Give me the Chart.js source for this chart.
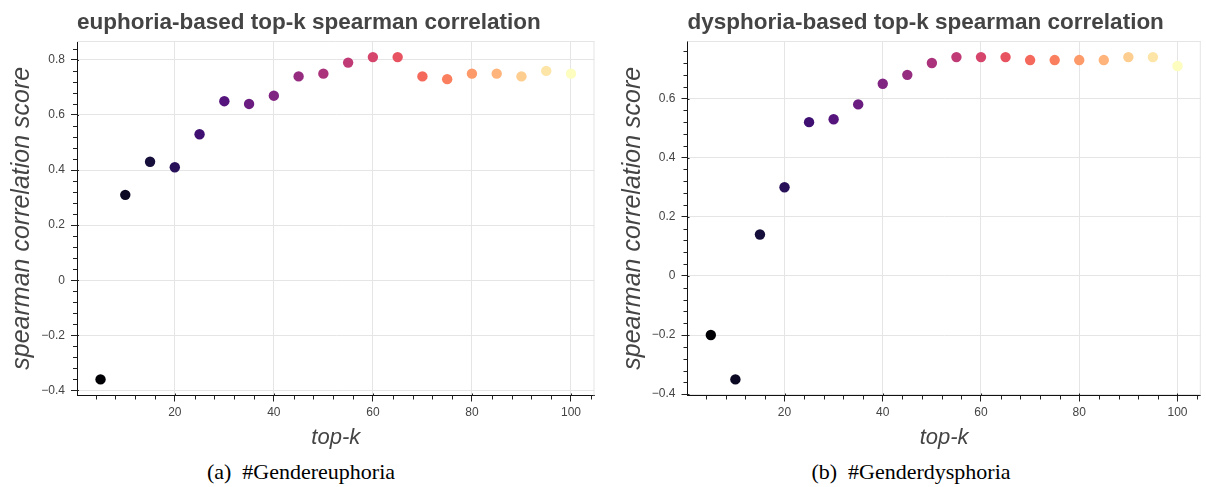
<!DOCTYPE html>
<html>
<head>
<meta charset="utf-8">
<script src="https://cdn.jsdelivr.net/npm/chart.js@4.4.1/dist/chart.umd.min.js"></script>
<style>
  html, body { margin: 0; padding: 0; background: #fff; }
  body { width: 1206px; height: 487px; position: relative; overflow: hidden; }
  canvas { position: absolute; top: 0; }
  #euphoriaChart { left: 0; }
  #dysphoriaChart { left: 611px; }
  .caption {
    position: absolute; top: 459px; width: 400px; text-align: center;
    font-family: "Liberation Serif", "Times New Roman", serif; font-size: 22px; color: #000;
    white-space: pre;
  }
</style>
</head>
<body>
<canvas id="euphoriaChart" width="600" height="455"></canvas>
<canvas id="dysphoriaChart" width="595" height="455"></canvas>
<div class="caption" style="left:101px">(a)  #Gendereuphoria</div>
<div class="caption" style="left:711px">(b)  #Genderdysphoria</div>
<script>
// valores (top-k x correlação de spearman)
const TOP_K = [5, 10, 15, 20, 25, 30, 35, 40, 45, 50, 55, 60, 65, 70, 75, 80, 85, 90, 95, 100];
const EUPHORIA = [-0.36, 0.31, 0.43, 0.41, 0.53, 0.65, 0.64, 0.67, 0.74, 0.75, 0.79, 0.81, 0.81, 0.74, 0.73, 0.75, 0.75, 0.74, 0.76, 0.75];
const DYSPHORIA = [-0.20, -0.35, 0.14, 0.30, 0.52, 0.53, 0.58, 0.65, 0.68, 0.72, 0.74, 0.74, 0.74, 0.73, 0.73, 0.73, 0.73, 0.74, 0.74, 0.71];

// paleta magma (20 cores, uma por ponto)
const MAGMA = ['#000004', '#0a0822', '#160f3b', '#29115a', '#3f0f72', '#56147d', '#6a1c81', '#802582',
  '#962c80', '#ab337c', '#c03a76', '#d6456c', '#e85362', '#f4695c', '#fa7f5e', '#fd9a6a',
  '#feb47b', '#fecd90', '#fde5a7', '#fcfdbf'];

const INK = '#444444';
const SANS = '"Liberation Sans", Arial, Helvetica, sans-serif';

// ticks menores e borda clara do quadro (estilo bokeh)
const frameDecor = {
  id: 'frameDecor',
  afterDraw(chart) {
    const { ctx, chartArea: a, scales: { x, y } } = chart;
    ctx.save();
    ctx.lineWidth = 1;
    ctx.strokeStyle = '#e5e5e5';
    ctx.beginPath();
    ctx.moveTo(a.left, a.top + 0.5); ctx.lineTo(a.right, a.top + 0.5);
    ctx.moveTo(a.right - 0.5, a.top); ctx.lineTo(a.right - 0.5, a.bottom);
    ctx.stroke();

    ctx.strokeStyle = '#222';
    ctx.beginPath();
    const xs = 4;
    for (let k = Math.ceil(x.min / xs); k * xs <= x.max; k++) {
      const px = Math.round(x.getPixelForValue(k * xs)) + 0.5;
      const major = k % 5 === 0;
      ctx.moveTo(px, a.bottom - (major ? 2 : 0));
      ctx.lineTo(px, a.bottom + (major ? 0 : 4));
    }
    const ys = 0.04;
    for (let k = Math.ceil(y.min / ys); k * ys <= y.max; k++) {
      const py = Math.round(y.getPixelForValue(k * ys)) + 0.5;
      const major = k % 5 === 0;
      ctx.moveTo(a.left + (major ? 2 : 0), py);
      ctx.lineTo(a.left - (major ? 0 : 4), py);
    }
    ctx.stroke();
    ctx.restore();
  }
};

const fmtY = (v) => {
  if (Math.abs(v) < 1e-9) return '0';
  return (v < 0 ? '\u2212' : '') + Math.abs(v).toFixed(1);
};

const makeChart = (id, title, values, yWidth, padRight) => {
  const lo = Math.min(...values), hi = Math.max(...values);
  const yPad = (hi - lo) * 0.05;
  const xPad = (TOP_K[TOP_K.length - 1] - TOP_K[0]) * 0.05;

  return new Chart(document.getElementById(id), {
    type: 'scatter',
    data: {
      datasets: [{
        data: TOP_K.map((k, i) => ({ x: k, y: values[i] })),
        backgroundColor: MAGMA,
        borderWidth: 0,
        pointRadius: 5.2,
        pointHoverRadius: 5.2
      }]
    },
    options: {
      responsive: false,
      animation: false,
      devicePixelRatio: 1,
      layout: { padding: { left: 0, right: padRight, top: 0, bottom: 0 } },
      plugins: {
        legend: { display: false },
        tooltip: { enabled: false },
        title: {
          display: true,
          text: title,
          align: 'start',
          fullSize: false,
          color: INK,
          font: { family: SANS, size: 22.5, weight: 'bold', lineHeight: 1.2 },
          padding: { top: 9.2, bottom: 4.8 }
        }
      },
      scales: {
        x: {
          type: 'linear',
          min: TOP_K[0] - xPad,
          max: TOP_K[TOP_K.length - 1] + xPad,
          afterFit: (s) => { s.height = 59.5; },
          ticks: {
            stepSize: 20,
            includeBounds: false,
            color: INK,
            padding: 4,
            font: { family: SANS, size: 12 }
          },
          grid: { color: '#e5e5e5', tickColor: '#222', tickLength: 6 },
          border: { display: true, color: '#111', width: 1 },
          title: {
            display: true,
            text: 'top-k',
            color: INK,
            font: { family: SANS, size: 22, style: 'italic', lineHeight: 1.2 },
            padding: { top: 0, bottom: 4 }
          }
        },
        y: {
          type: 'linear',
          min: lo - yPad,
          max: hi + yPad,
          afterFit: (s) => { s.width = yWidth; },
          ticks: {
            stepSize: 0.2,
            includeBounds: false,
            color: INK,
            padding: 6,
            font: { family: SANS, size: 12 },
            callback: fmtY
          },
          grid: { color: '#e5e5e5', tickColor: '#222', tickLength: 6 },
          border: { display: true, color: '#111', width: 1 },
          title: {
            display: true,
            text: 'spearman correlation score',
            color: INK,
            font: { family: SANS, size: 25, style: 'italic', lineHeight: 1.2 },
            padding: { top: 6.7, bottom: 0 }
          }
        }
      }
    },
    plugins: [frameDecor]
  });
};

makeChart('euphoriaChart', 'euphoria-based top-k spearman correlation', EUPHORIA, 77, 5.5);
makeChart('dysphoriaChart', 'dysphoria-based top-k spearman correlation', DYSPHORIA, 76.5, 2.5);
</script>
</body>
</html>
